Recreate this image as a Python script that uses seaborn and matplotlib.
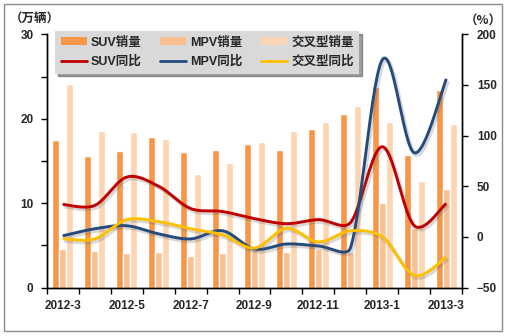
import numpy as np
import pandas as pd
import matplotlib
matplotlib.use("Agg")
import matplotlib.pyplot as plt
import matplotlib.patheffects as pe
from matplotlib.patches import Patch, Rectangle
from matplotlib.lines import Line2D
import seaborn as sns

# Monthly sales (10k vehicles) and year-on-year growth (%)
months = ["2012-3", "2012-4", "2012-5", "2012-6", "2012-7", "2012-8", "2012-9",
          "2012-10", "2012-11", "2012-12", "2013-1", "2013-2", "2013-3"]
suv_sales = [17.5, 15.6, 16.2, 17.8, 16.0, 16.3, 17.0, 16.3, 18.8, 20.5, 23.8, 15.7, 23.4]
mpv_sales = [4.55, 4.3, 4.1, 4.2, 3.7, 4.1, 4.5, 4.2, 4.6, 4.2, 10.0, 7.0, 11.7]
cross_sales = [24.1, 18.5, 18.4, 17.6, 13.4, 14.8, 17.2, 18.6, 19.6, 21.5, 19.6, 12.6, 19.4]
suv_yoy = [32, 31, 59, 50, 28, 25, 18, 13, 17, 14, 89, 11, 33]
mpv_yoy = [1, 8, 11, 3, -2, 6, -12, -7, -9, -11, 175, 83, 156]
cross_yoy = [-2, -2, 17, 15, 8, 2, -11, 8.5, -5, 6, 0, -38, -20]

bar_names = ["SUV销量", "MPV销量", "交叉型销量"]
line_names = ["SUV同比", "MPV同比", "交叉型同比"]
bar_colors = ["#F79646", "#FAC090", "#FCD5B4"]
line_colors = ["#C00000", "#254A7E", "#FFC000"]

sns.set_style("ticks")
plt.rcParams["font.family"] = ["Liberation Sans", "Noto Sans CJK SC"]
plt.rcParams["font.weight"] = "bold"

# pixel size of one x step and one y unit (right axis), used to smooth in screen space
X_PX, Y_PX = 32.0, 1.013


def smooth_curve(y, n=40):
    """Catmull-Rom Bezier smoothing with handles capped at a third of each segment."""
    y = np.asarray(y, dtype=float)
    x = np.arange(len(y), dtype=float)
    pts = np.column_stack([x * X_PX, y * Y_PX])
    m = len(pts)
    t = np.linspace(0, 1, n)[:, None]
    out = []

    def handle(i, seg_len):
        d = (pts[min(i + 1, m - 1)] - pts[max(i - 1, 0)]) / 6.0
        ln = np.hypot(*d)
        cap = seg_len / 3.0
        return d * (cap / ln) if ln > cap else d

    for i in range(m - 1):
        p1, p2 = pts[i], pts[i + 1]
        seg_len = np.hypot(*(p2 - p1))
        c1 = p1 + handle(i, seg_len)
        c2 = p2 - handle(i + 1, seg_len)
        seg = ((1 - t) ** 3) * p1 + 3 * ((1 - t) ** 2) * t * c1 + 3 * (1 - t) * t ** 2 * c2 + t ** 3 * p2
        out.append(seg if i == 0 else seg[1:])
    seg = np.vstack(out)
    return seg[:, 0] / X_PX, seg[:, 1] / Y_PX


fig = plt.figure(figsize=(5.10, 3.36), dpi=100)
ax = fig.add_axes([46.7 / 510, 1 - 287.5 / 336, (462.3 - 46.7) / 510, (287.5 - 34.3) / 336])

idx = np.arange(len(months))
sales = pd.DataFrame({
    "idx": np.tile(idx, 3),
    "value": suv_sales + mpv_sales + cross_sales,
    "series": np.repeat(bar_names, len(months)),
})
sns.barplot(data=sales, x="idx", y="value", hue="series", hue_order=bar_names,
            palette=bar_colors, width=0.66, saturation=1, ax=ax, legend=False)

ax2 = ax.twinx()
shadow = [pe.SimpleLineShadow(offset=(1.2, -1.6), shadow_color="#666666", alpha=0.25, linewidth=2.8),
          pe.Normal()]
for vals, col in zip([suv_yoy, mpv_yoy, cross_yoy], line_colors):
    xs, ys = smooth_curve(vals)
    sns.lineplot(x=xs, y=ys, ax=ax2, color=col, linewidth=2.1, sort=False,
                 estimator=None, path_effects=shadow, solid_capstyle="butt")

# Axes limits and ticks
ax.set_ylim(0, 30)
ax.set_yticks([0, 10, 20, 30])
ax.set_yticks([5, 15, 25], minor=True)
ax2.set_ylim(-50, 200)
ax2.set_yticks([-50, 0, 50, 100, 150, 200])
ax.set_xlim(-0.5, len(months) - 0.5)
ax.set_xticks(np.arange(-0.5, len(months), 1.0))
ax.set_xticklabels([])
ax.set_xticks(idx[::2], minor=True)
ax.set_xticklabels(months[::2], minor=True)
ax.tick_params(axis="x", which="major", length=4, width=1, color="black", direction="out")
ax.tick_params(axis="x", which="minor", length=0, pad=9, labelsize=8.5)
ax.tick_params(axis="y", which="both", length=4.5, width=1, color="black", direction="out",
               labelsize=8.5, pad=5)
ax2.tick_params(axis="y", length=4.5, width=1, color="black", direction="out", labelsize=8.5, pad=6)
for a in (ax, ax2):
    a.set_xlabel("")
    a.set_ylabel("")
    for side in ("left", "right", "bottom"):
        a.spines[side].set_color("black")
        a.spines[side].set_linewidth(1)
    a.spines["top"].set_visible(False)
    for lab in a.get_yticklabels() + a.get_xticklabels(which="both"):
        lab.set_fontweight("bold")

# Unit labels
fig.text(10 / 510, 1 - 19 / 336, "（万辆）", ha="left", va="center", fontsize=9,
         family=["Noto Sans CJK SC"], fontweight="bold")
fig.text(483 / 510, 1 - 21 / 336, "（%）", ha="center", va="center", fontsize=9,
         family=["Noto Sans CJK SC", "Liberation Sans"], fontweight="bold")

# Legend
handles, labels = [], []
for bn, bc, ln, lc in zip(bar_names, bar_colors, line_names, line_colors):
    handles += [Patch(facecolor=bc, edgecolor="none"), Line2D([], [], color=lc, lw=2)]
    labels += [bn, ln]
leg = ax2.legend(handles, labels, ncol=3, loc="upper left",
                 bbox_to_anchor=(55 / 510, 1 - 31 / 336), bbox_transform=fig.transFigure,
                 borderaxespad=0, frameon=True, fancybox=False, shadow=True,
                 facecolor="#D9D9D9", edgecolor="none", framealpha=1,
                 handlelength=2.1, handleheight=0.6, handletextpad=0.3,
                 columnspacing=1.5, labelspacing=0.55, borderpad=0.45,
                 prop={"size": 9, "weight": "bold"})
leg.set_zorder(10)

# Outer frame
fig.patches.append(Rectangle((4 / 510, 1 - 331 / 336), 498 / 510, 327 / 336,
                             transform=fig.transFigure, fill=False,
                             edgecolor="#8C8C8C", linewidth=1))

fig.savefig("out.png", dpi=100)
